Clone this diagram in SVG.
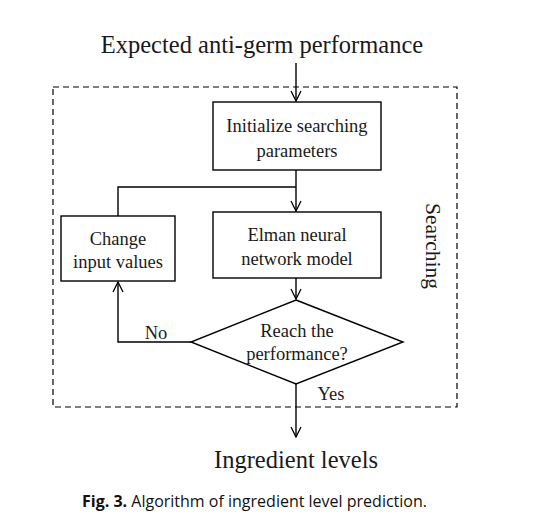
<svg xmlns="http://www.w3.org/2000/svg" width="537" height="532" viewBox="0 0 537 532">
<defs>
<marker id="arr" viewBox="0 0 12 12" refX="11" refY="6" markerWidth="12" markerHeight="12" markerUnits="userSpaceOnUse" orient="auto">
<path d="M1,1 L11,6 L1,11" fill="none" stroke="#000" stroke-width="1.3"/>
</marker>
<style>
.t{font-family:"Liberation Serif","Times New Roman",serif;fill:#1a1a1a;text-anchor:middle}
.b{fill:#fff;stroke:#000;stroke-width:1.4}
.c{fill:none;stroke:#000;stroke-width:1.4}
</style>
</defs>
<rect width="537" height="532" fill="#fff"/>
<rect x="53" y="87" width="404" height="320" fill="none" stroke="#000" stroke-width="1.2" stroke-dasharray="6,4"/>
<text class="t" x="262" y="53" font-size="24.5">Expected anti-germ performance</text>
<g id="connectors">
<line class="c" x1="296" y1="63" x2="296" y2="101" marker-end="url(#arr)"/>
<line class="c" x1="296" y1="170" x2="296" y2="211" marker-end="url(#arr)"/>
<polyline class="c" points="296,187 118,187 118,216"/>
<line class="c" x1="296" y1="278" x2="296" y2="299" marker-end="url(#arr)"/>
<polyline class="c" points="191,342 118,342 118,282" marker-end="url(#arr)"/>
<line class="c" x1="296" y1="384" x2="296" y2="437" marker-end="url(#arr)"/>
<text class="t" x="156" y="339" font-size="18.5">No</text>
<text class="t" x="331" y="400" font-size="18.5">Yes</text>
</g>
<g id="init">
<rect class="b" x="213" y="102" width="168" height="68"/>
<text class="t" x="297" y="132" font-size="18.5">Initialize searching</text>
<text class="t" x="297" y="157" font-size="18.5">parameters</text>
</g>
<g id="elman">
<rect class="b" x="213" y="212" width="168" height="66"/>
<text class="t" x="297" y="241" font-size="18.5">Elman neural</text>
<text class="t" x="297" y="265" font-size="18.5">network model</text>
</g>
<g id="change">
<rect class="b" x="61" y="216" width="114" height="65"/>
<text class="t" x="118" y="245" font-size="18.5">Change</text>
<text class="t" x="118" y="268" font-size="18.5">input values</text>
</g>
<g id="decision">
<polygon class="b" points="296,300 403,342 296,384 191,342"/>
<text class="t" x="297" y="337" font-size="18.5">Reach the</text>
<text class="t" x="297" y="360" font-size="18.5">performance?</text>
</g>
<g id="searching">
<text class="t" transform="translate(426,246) rotate(90)" font-size="21.5">Searching</text>
</g>
<text class="t" x="296" y="468" font-size="24.5">Ingredient levels</text>
<text x="82" y="507" font-family="'Open Sans','Noto Sans',sans-serif" font-size="16" fill="#111" textLength="345" lengthAdjust="spacingAndGlyphs"><tspan font-weight="bold">Fig. 3.</tspan> Algorithm of ingredient level prediction.</text>
</svg>
